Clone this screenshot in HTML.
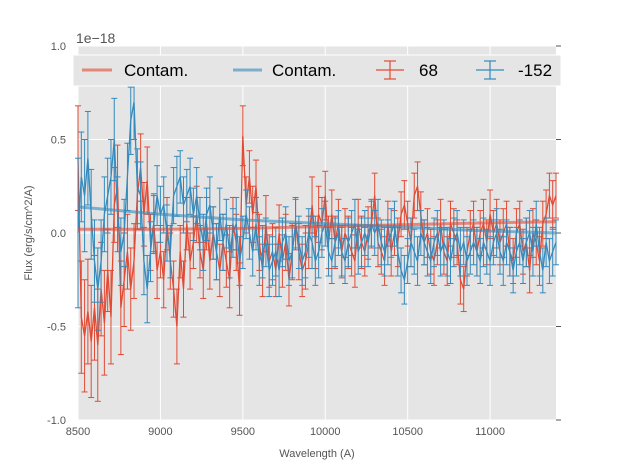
<!DOCTYPE html>
<html><head><meta charset="utf-8"><style>
body{margin:0;background:#fff;width:617px;height:467px;overflow:hidden;font-family:"Liberation Sans",sans-serif}
</style></head><body>
<svg id="chart" width="617" height="467" xmlns="http://www.w3.org/2000/svg" font-family="Liberation Sans, sans-serif">
<rect x="78" y="46" width="478" height="374" fill="#e5e5e5"/>
<g id="grid"></g><g id="ticks"></g><g id="series"></g>
<text x="76" y="43" font-size="14" fill="#555">1e−18</text>
<text x="317" y="457" font-size="11" fill="#555" text-anchor="middle">Wavelength (A)</text>
<text transform="translate(32,233) rotate(-90)" font-size="11" fill="#555" text-anchor="middle">Flux (erg/s/cm^2/A)</text>
<g>
<rect x="73" y="55" width="488" height="31" fill="#e5e5e5" stroke="#fff" stroke-width="1"/>
<line x1="82" y1="70" x2="112" y2="70" stroke="#E24A33" stroke-width="3" opacity="0.6"/>
<text x="124" y="76" font-size="17">Contam.</text>
<line x1="233" y1="70" x2="262" y2="70" stroke="#348ABD" stroke-width="3" opacity="0.6"/>
<text x="272" y="76" font-size="17">Contam.</text>
<g stroke="#E24A33" stroke-width="1.2"><line x1="376" y1="70" x2="404" y2="70"/><line x1="390" y1="61" x2="390" y2="79"/><line x1="384" y1="61" x2="396" y2="61"/><line x1="384" y1="79" x2="396" y2="79"/></g>
<text x="419" y="76" font-size="17">68</text>
<g stroke="#348ABD" stroke-width="1.2"><line x1="476" y1="70" x2="504" y2="70"/><line x1="490" y1="61" x2="490" y2="79"/><line x1="484" y1="61" x2="496" y2="61"/><line x1="484" y1="79" x2="496" y2="79"/></g>
<text x="518" y="76" font-size="17">-152</text>
</g>
</svg>
<script>
const xTicks=[8500,9000,9500,10000,10500,11000];
const yTicks=[-1.0,-0.5,0.0,0.5,1.0];
const redVals=[40,-45,-55,-42,-58,-40,-60,-30,-48,-20,-45,15,25,-40,-25,
-10,-30,-15,20,35,10,28,-5,5,-20,-10,-25,5,-15,-30,
-50,-10,-30,5,-15,-5,10,-10,-20,5,-15,0,-10,-20,-5,
-15,-25,5,-5,-30,52,15,30,10,25,-5,-20,5,-15,-10,
-20,0,-15,-5,-25,-10,5,-10,-20,-15,-5,15,-5,10,5,
20,-5,10,-5,5,-10,0,-5,-10,-15,5,-5,-10,0,5,
20,-5,-10,-15,5,-10,0,-5,10,15,5,-5,20,25,10,
-5,0,-10,-15,-5,5,-10,-15,5,0,-5,-25,-30,-10,0,
5,-10,0,5,-5,10,0,5,-5,0,5,-10,-15,0,5,
-10,-5,-20,0,-5,-15,5,10,20,15,20];
const redErr=[28,30,30,28,30,28,30,25,28,22,25,20,22,25,25,
20,22,20,18,18,17,18,15,15,15,14,15,14,15,15,
20,14,15,14,15,14,15,14,15,14,15,14,15,14,15,
14,15,14,15,14,16,15,14,15,14,15,14,15,14,15,
14,15,14,15,14,15,14,15,14,15,14,15,14,15,14,
13,14,13,14,13,14,13,14,13,14,13,14,13,14,13,
12,13,12,13,12,13,12,13,12,13,12,13,12,13,12,
12,13,12,13,12,13,12,13,12,13,12,13,12,13,12,
12,13,12,13,12,13,12,13,12,13,12,13,12,13,12,
12,13,12,13,12,13,12,13,12,13,12];
const blueVals=[0,30,20,40,10,-15,-30,-15,10,20,30,50,10,-10,0,
30,60,70,25,20,-15,-30,-10,5,20,10,15,0,-10,20,
25,30,15,20,25,10,20,5,-5,10,15,0,-10,10,-5,
5,-10,0,5,-15,-5,10,0,-10,5,-15,-10,-5,-20,-15,
-10,-20,-5,0,-15,-10,5,-5,-15,-10,0,-5,-15,-10,0,
5,-10,-15,-5,0,-10,-15,-5,0,5,-10,-5,0,-5,5,
0,5,-5,-10,-5,0,5,-10,-20,-25,-15,-5,-10,-15,0,
-5,-10,-15,-5,0,-10,-5,-10,-15,-5,0,-10,-5,-15,-10,
-5,-10,-15,-5,-10,-15,-5,0,-10,-15,-5,-10,-20,-10,-5,
-15,-5,0,-10,5,-10,-20,-5,-15,-10,-5];
const blueErr=[40,24,30,25,24,22,22,22,20,20,20,22,20,18,18,
18,18,20,20,18,18,18,16,16,16,15,15,15,14,15,
16,14,15,14,15,14,15,14,15,14,15,14,15,14,15,
13,14,13,14,13,14,13,14,13,14,13,14,13,14,13,
13,14,13,14,13,14,13,14,13,14,13,14,13,14,13,
12,13,12,13,12,13,12,13,12,13,12,13,12,13,12,
12,13,12,13,12,13,12,13,12,13,12,13,12,13,12,
12,13,12,13,12,13,12,13,12,13,12,13,12,13,12,
12,13,12,13,12,13,12,13,12,13,12,13,12,13,12,
12,13,12,13,12,13,12,13,12,13,12];
const contamX=[8500,9000,9500,10000,10500,11000,11400];
const redContam=[2,2,2.5,3.5,4.5,5.5,6];
const blueContam=[14,10,7,5,3,1,0];
const NS="http://www.w3.org/2000/svg";
const X0=8500,X1=11400,px0=78,px1=556,py0=420,py1=46;
const sx=v=>px0+(v-X0)/(X1-X0)*(px1-px0);
const sy=v=>py0+(v+1)/2*(py1-py0);
const wl=i=>X0+20*i;
function mk(p,t,a){const e=document.createElementNS(NS,t);for(const k in a)e.setAttribute(k,a[k]);p.appendChild(e);return e;}
const grid=document.getElementById('grid'),ticks=document.getElementById('ticks'),ser=document.getElementById('series');
xTicks.forEach(t=>{const l=mk(grid,'line',{x1:sx(t),x2:sx(t),y1:py1,y2:py0,stroke:'#fff','stroke-width':1});


const tx=mk(ticks,'text',{x:sx(t),y:py0+15,'font-size':11,fill:'#555','text-anchor':'middle'});tx.textContent=t;

});
yTicks.forEach(t=>{const l=mk(grid,'line',{x1:px0,x2:px1,y1:sy(t),y2:sy(t),stroke:'#fff','stroke-width':1});


mk(ticks,'line',{x1:px1,x2:px1+5,y1:sy(t),y2:sy(t),stroke:'#555'});
const tx=mk(ticks,'text',{x:66,y:sy(t)+4,'font-size':11,fill:'#555','text-anchor':'end'});tx.textContent=t.toFixed(1);

});
function errSeries(vals,errs,col,name){
 const g=mk(ser,'g',{stroke:col,'stroke-width':1,fill:'none'});
 
 
 let d='';
 vals.forEach((v,i)=>{const x=sx(wl(i)),y=v/100,e=errs[i]/100;
  mk(g,'line',{x1:x,x2:x,y1:sy(y-e),y2:sy(y+e)});
  mk(g,'line',{x1:x-3,x2:x+3,y1:sy(y-e),y2:sy(y-e)});
  mk(g,'line',{x1:x-3,x2:x+3,y1:sy(y+e),y2:sy(y+e)});
  d+=(i?'L':'M')+x.toFixed(1)+','+sy(y).toFixed(1);});
 const p=mk(g,'path',{d:d,'stroke-width':1.3});
 
 
}
function contam(vals,col,name){let d='';vals.forEach((v,i)=>{d+=(i?'L':'M')+sx(contamX[i])+','+sy(v/100);});
 const p=mk(ser,'path',{d:d,stroke:col,'stroke-width':3,opacity:0.6,fill:'none'});
 
 }
errSeries(redVals,redErr,'#E24A33','series-68');
errSeries(blueVals,blueErr,'#348ABD','series-minus152');
contam(redContam,'#E24A33','contam-red');
contam(blueContam,'#348ABD','contam-blue');
</script>
</body></html>
